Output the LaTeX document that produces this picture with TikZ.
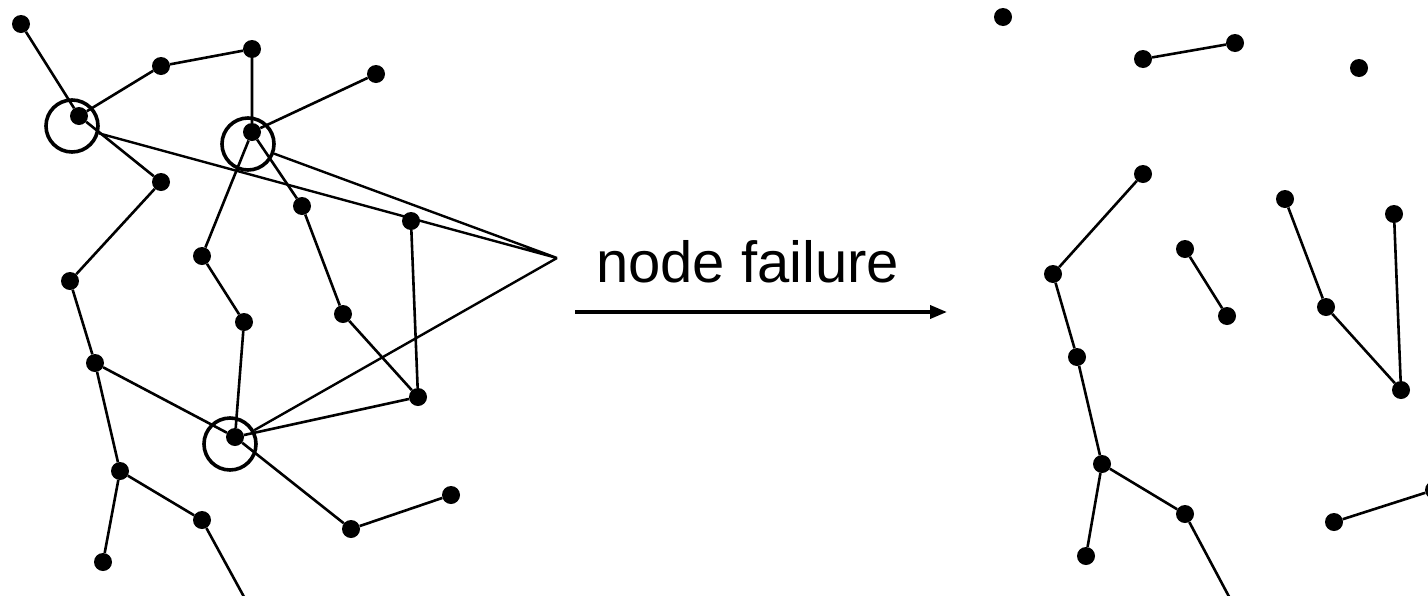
\documentclass[tikz,border=0pt]{standalone}
\usepackage{fontspec}
\setmainfont{Liberation Sans}
\usetikzlibrary{arrows.meta}
\begin{document}
\begin{tikzpicture}[x=1pt,y=-1pt,
  dot/.style={circle,fill=black,inner sep=0pt,minimum size=18pt},
  edge/.style={line width=2.6pt},
  ring/.style={circle,draw,line width=3.6pt,inner sep=0pt,minimum size=52pt},
  pointer/.style={line width=2.4pt},
  flow/.style={line width=3.6pt,-{Triangle[length=17pt,width=13pt]}}]
\useasboundingbox (0,0) rectangle (1428,595);
\clip (0,0) rectangle (1428,595);

% ---- network before the failure ----
\node[dot] (a1)  at (21,24) {};
\node[dot] (a2)  at (79,116) {};
\node[dot] (a3)  at (161,66) {};
\node[dot] (a4)  at (252,49) {};
\node[dot] (a5)  at (252,132) {};
\node[dot] (a6)  at (376,74) {};
\node[dot] (a7)  at (161,182) {};
\node[dot] (a8)  at (302,206) {};
\node[dot] (a9)  at (411,221) {};
\node[dot] (a10) at (202,256) {};
\node[dot] (a11) at (70,281) {};
\node[dot] (a12) at (244,322) {};
\node[dot] (a13) at (343,314) {};
\node[dot] (a14) at (95,363) {};
\node[dot] (a15) at (418,397) {};
\node[dot] (a16) at (235,437) {};
\node[dot] (a17) at (120,471) {};
\node[dot] (a18) at (202,520) {};
\node[dot] (a19) at (351,529) {};
\node[dot] (a20) at (451,495) {};
\node[dot] (a21) at (103,562) {};
\coordinate (aout) at (249,606);

\draw[edge] (a1)--(a2) (a2)--(a3) (a3)--(a4) (a4)--(a5) (a5)--(a6)
  (a2)--(a7) (a7)--(a11) (a5)--(a10) (a5)--(a8) (a8)--(a13)
  (a9)--(a15) (a13)--(a15) (a10)--(a12) (a12)--(a16) (a11)--(a14)
  (a14)--(a16) (a14)--(a17) (a16)--(a15) (a16)--(a19) (a19)--(a20)
  (a17)--(a21) (a17)--(a18) (a18)--(aout);

% ---- failing nodes ----
\node[ring] (r1) at (72,126) {};
\node[ring] (r2) at (248,144) {};
\node[ring] (r3) at (230,444) {};
\coordinate (apex) at (557,258);
\draw[pointer] (r1)--(apex) (r2)--(apex) (r3)--(apex);

% ---- transition ----
\node[anchor=base west,inner sep=0pt,font=\fontsize{58pt}{60pt}\selectfont] (label) at (596,282) {node failure};
\coordinate (fstart) at (575,312);
\coordinate (fend) at (947,312);
\draw[flow] (fstart)--(fend);

% ---- network after the failure ----
\node[dot] (b1)  at (1003,17) {};
\node[dot] (b2)  at (1143,59) {};
\node[dot] (b3)  at (1235,43) {};
\node[dot] (b4)  at (1359,68) {};
\node[dot] (b5)  at (1143,174) {};
\node[dot] (b6)  at (1285,199) {};
\node[dot] (b7)  at (1394,214) {};
\node[dot] (b8)  at (1185,249) {};
\node[dot] (b9)  at (1053,274) {};
\node[dot] (b10) at (1227,316) {};
\node[dot] (b11) at (1326,307) {};
\node[dot] (b12) at (1077,357) {};
\node[dot] (b13) at (1401,390) {};
\node[dot] (b14) at (1102,464) {};
\node[dot] (b15) at (1185,514) {};
\node[dot] (b16) at (1334,522) {};
\node[dot] (b17) at (1434,490) {};
\node[dot] (b18) at (1086,556) {};
\coordinate (bout) at (1234,606);

\draw[edge] (b2)--(b3) (b5)--(b9) (b8)--(b10) (b6)--(b11) (b7)--(b13)
  (b11)--(b13) (b9)--(b12) (b12)--(b14) (b14)--(b15) (b14)--(b18)
  (b15)--(bout) (b16)--(b17);
\end{tikzpicture}
\end{document}
